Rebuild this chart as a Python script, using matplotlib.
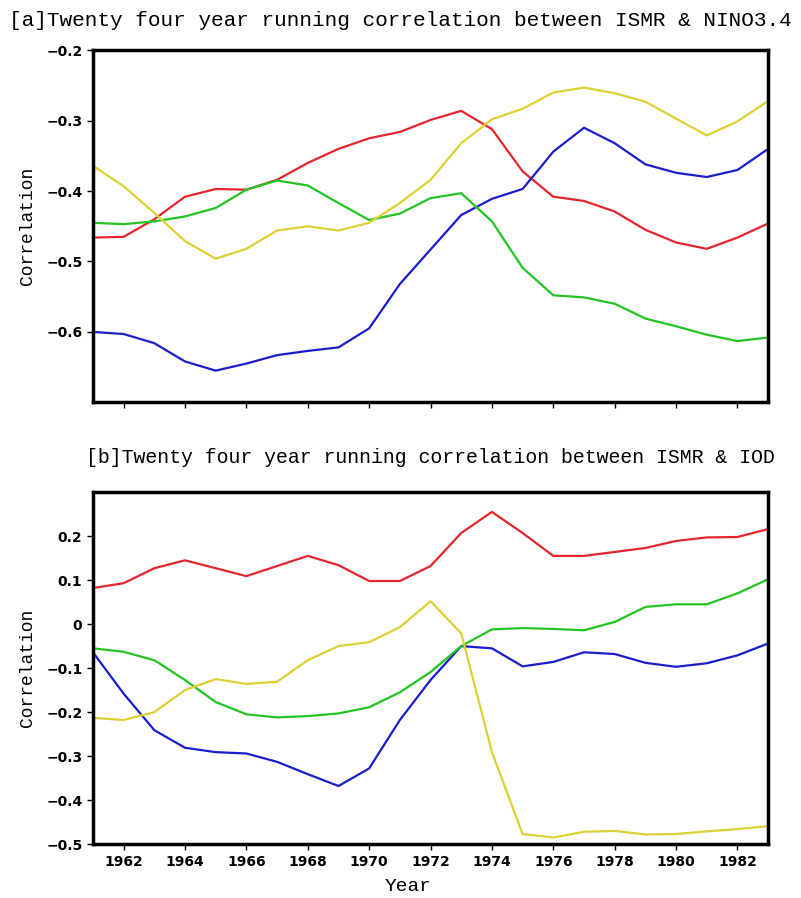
import numpy as np
import matplotlib
matplotlib.use('Agg')
import matplotlib.pyplot as plt

years = np.arange(1961, 1984)

# panel a: ISMR vs NINO3.4
nino_red = [-0.466, -0.465, -0.440, -0.408, -0.397, -0.398, -0.384, -0.360, -0.340, -0.325, -0.316,
            -0.299, -0.286, -0.312, -0.372, -0.408, -0.414, -0.429, -0.455, -0.473, -0.482, -0.466, -0.446]
nino_blue = [-0.600, -0.603, -0.616, -0.642, -0.655, -0.645, -0.633, -0.627, -0.622, -0.595, -0.532,
             -0.483, -0.434, -0.411, -0.397, -0.344, -0.310, -0.332, -0.362, -0.374, -0.380, -0.370, -0.340]
nino_green = [-0.445, -0.447, -0.443, -0.436, -0.424, -0.398, -0.385, -0.392, -0.417, -0.441, -0.432,
              -0.410, -0.403, -0.443, -0.509, -0.548, -0.551, -0.560, -0.581, -0.592, -0.604, -0.613, -0.608]
nino_yellow = [-0.364, -0.393, -0.431, -0.471, -0.496, -0.482, -0.456, -0.450, -0.456, -0.445, -0.417,
               -0.384, -0.332, -0.298, -0.283, -0.260, -0.253, -0.261, -0.273, -0.297, -0.321, -0.301, -0.272]

# panel b: ISMR vs IOD
iod_red = [0.082, 0.093, 0.127, 0.145, 0.127, 0.109, 0.132, 0.155, 0.134, 0.098, 0.098,
           0.132, 0.207, 0.255, 0.207, 0.155, 0.155, 0.164, 0.173, 0.189, 0.197, 0.198, 0.216]
iod_blue = [-0.064, -0.158, -0.241, -0.281, -0.291, -0.294, -0.313, -0.341, -0.368, -0.328, -0.218,
            -0.127, -0.050, -0.055, -0.096, -0.086, -0.064, -0.068, -0.088, -0.097, -0.089, -0.071, -0.044]
iod_green = [-0.055, -0.063, -0.082, -0.127, -0.177, -0.205, -0.212, -0.209, -0.203, -0.189, -0.155,
             -0.109, -0.050, -0.012, -0.009, -0.011, -0.014, 0.005, 0.039, 0.045, 0.045, 0.070, 0.102]
iod_yellow = [-0.213, -0.218, -0.200, -0.150, -0.125, -0.136, -0.131, -0.082, -0.050, -0.041, -0.007,
              0.052, -0.021, -0.291, -0.477, -0.485, -0.472, -0.470, -0.478, -0.477, -0.471, -0.466, -0.459]

colors = {'red': '#e4262c', 'blue': '#1c1ccc', 'green': '#22c422', 'yellow': '#ddd035'}
txtfont = 'Liberation Mono'

fig = plt.figure(figsize=(8.01, 8.98), dpi=100)
ax1 = fig.add_axes([0.116, 0.552, 0.843, 0.392])
ax2 = fig.add_axes([0.116, 0.060, 0.843, 0.392])

for ax, series in [(ax1, [nino_red, nino_blue, nino_green, nino_yellow]),
                   (ax2, [iod_red, iod_blue, iod_green, iod_yellow])]:
    for ys, c in zip(series, ['red', 'blue', 'green', 'yellow']):
        ax.plot(years, ys, color=colors[c], lw=1.6)
    ax.set_xlim(1961, 1983)
    ax.set_xticks(np.arange(1962, 1984, 2))
    for s in ax.spines.values():
        s.set_linewidth(2.5)
    ax.tick_params(direction='out', length=4, width=1, labelsize=10)
    ax.set_ylabel('Correlation', family=txtfont, fontsize=13)
    ax.yaxis.set_label_coords(-0.085, 0.5)

ax1.set_ylim(-0.7, -0.2)
ax1.set_yticks([-0.2, -0.3, -0.4, -0.5, -0.6])
ax1.set_yticklabels(['\u22120.2', '\u22120.3', '\u22120.4', '\u22120.5', '\u22120.6'], fontweight='bold')
ax1.set_xticklabels([])

ax2.set_ylim(-0.5, 0.3)
ax2.set_yticks([0.2, 0.1, 0, -0.1, -0.2, -0.3, -0.4, -0.5])
ax2.set_yticklabels(['0.2', '0.1', '0', '\u22120.1', '\u22120.2', '\u22120.3', '\u22120.4', '\u22120.5'],
                    fontweight='bold')
ax2.set_xticklabels([str(y) for y in range(1962, 1984, 2)], fontweight='bold')
ax2.set_xlabel('Year', family=txtfont, fontsize=14, va='center')
ax2.xaxis.set_label_coords(0.467, -0.12)

fig.text(0.500, 0.977, '[a]Twenty four year running correlation between ISMR & NINO3.4',
         family=txtfont, fontsize=15.2, va='center', ha='center')
fig.text(0.537, 0.490, '[b]Twenty four year running correlation between ISMR & IOD',
         family=txtfont, fontsize=14.3, va='center', ha='center')

fig.savefig('out.png', dpi=100)
